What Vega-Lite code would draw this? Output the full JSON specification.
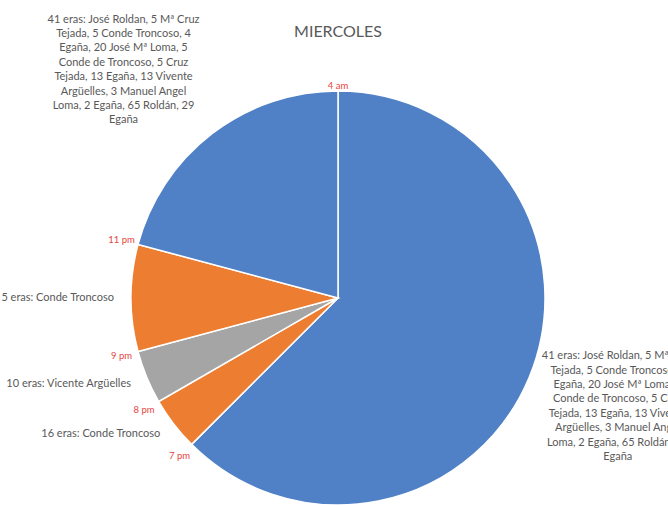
{
  "$schema": "https://vega.github.io/schema/vega-lite/v6.json",
  "width": 660,
  "height": 414,
  "padding": {"left": 8, "top": 91, "right": 0, "bottom": 0},
  "autosize": {"type": "none"},
  "background": "white",
  "title": {
    "text": "MIERCOLES",
    "font": "Lato",
    "fontSize": 16,
    "fontWeight": "normal",
    "color": "#595959",
    "anchor": "middle",
    "frame": "group",
    "baseline": "alphabetic",
    "offset": -39
  },
  "config": {"view": {"stroke": null}},
  "data": {
    "values": [
      {"slot": "4 am", "start": 0, "hours": 15, "label": "41 eras: José Roldan, 5 Mª Cruz\nTejada, 5 Conde Troncoso, 4\nEgaña, 20 José Mª Loma, 5\nConde de Troncoso, 5 Cruz\nTejada, 13 Egaña, 13 Vivente\nArgüelles, 3 Manuel Angel\nLoma, 2 Egaña, 65 Roldán, 29\nEgaña"},
      {"slot": "7 pm", "start": 15, "hours": 1, "label": "16 eras: Conde Troncoso"},
      {"slot": "8 pm", "start": 16, "hours": 1, "label": "10 eras: Vicente Argüelles"},
      {"slot": "9 pm", "start": 17, "hours": 2, "label": "5 eras: Conde Troncoso"},
      {"slot": "11 pm", "start": 19, "hours": 5, "label": "41 eras: José Roldan, 5 Mª Cruz\nTejada, 5 Conde Troncoso, 4\nEgaña, 20 José Mª Loma, 5\nConde de Troncoso, 5 Cruz\nTejada, 13 Egaña, 13 Vivente\nArgüelles, 3 Manuel Angel\nLoma, 2 Egaña, 65 Roldán, 29\nEgaña"}
    ]
  },
  "layer": [
    {
      "mark": {"type": "arc", "outerRadius": 207, "stroke": "white", "strokeWidth": 1.5},
      "encoding": {
        "theta": {"field": "hours", "type": "quantitative", "stack": true, "scale": {"domain": [0, 24]}},
        "order": {"field": "start", "type": "quantitative"},
        "color": {
          "field": "slot",
          "type": "nominal",
          "scale": {"domain": ["4 am", "7 pm", "8 pm", "9 pm", "11 pm"], "range": ["#5081C6", "#ED7D31", "#A5A5A5", "#ED7D31", "#5081C6"]},
          "legend": null
        }
      }
    },
    {
      "mark": {"type": "text", "radius": 224, "font": "Lato", "fontSize": 9.5, "color": "#E8453C", "align": "center", "baseline": "middle"},
      "encoding": {
        "theta": {"field": "start", "type": "quantitative", "stack": null},
        "text": {"condition": {"test": "datum.start == 0", "value": ""}, "field": "slot"}
      }
    },
    {
      "transform": [{"filter": "datum.start == 0"}],
      "mark": {"type": "text", "radius": 212, "font": "Lato", "fontSize": 9.5, "color": "#E8453C", "align": "center", "baseline": "middle"},
      "encoding": {
        "theta": {"field": "start", "type": "quantitative", "stack": null},
        "text": {"field": "slot"}
      }
    },
    {
      "mark": {"type": "text", "radius": 224, "font": "Lato", "fontSize": 11, "color": "#595959", "align": "right", "baseline": "middle"},
      "encoding": {
        "theta": {"field": "hours", "type": "quantitative", "stack": true},
        "order": {"field": "start", "type": "quantitative"},
        "text": {"condition": {"test": "datum.hours >= 5", "value": ""}, "field": "label"}
      }
    },
    {
      "transform": [{"filter": "datum.slot == '4 am'"}],
      "mark": {"type": "text", "radius": 300, "dy": -50, "font": "Lato", "fontSize": 11, "lineHeight": 14.4, "lineBreak": "\n", "color": "#595959", "align": "center", "baseline": "middle"},
      "encoding": {
        "theta": {"value": 1.94},
        "text": {"field": "label"}
      }
    },
    {
      "transform": [{"filter": "datum.slot == '11 pm'"}],
      "mark": {"type": "text", "radius": 313, "dx": -24, "dy": -30, "font": "Lato", "fontSize": 11, "lineHeight": 14.4, "lineBreak": "\n", "color": "#595959", "align": "center", "baseline": "middle"},
      "encoding": {
        "theta": {"value": 5.629},
        "text": {"field": "label"}
      }
    }
  ]
}
